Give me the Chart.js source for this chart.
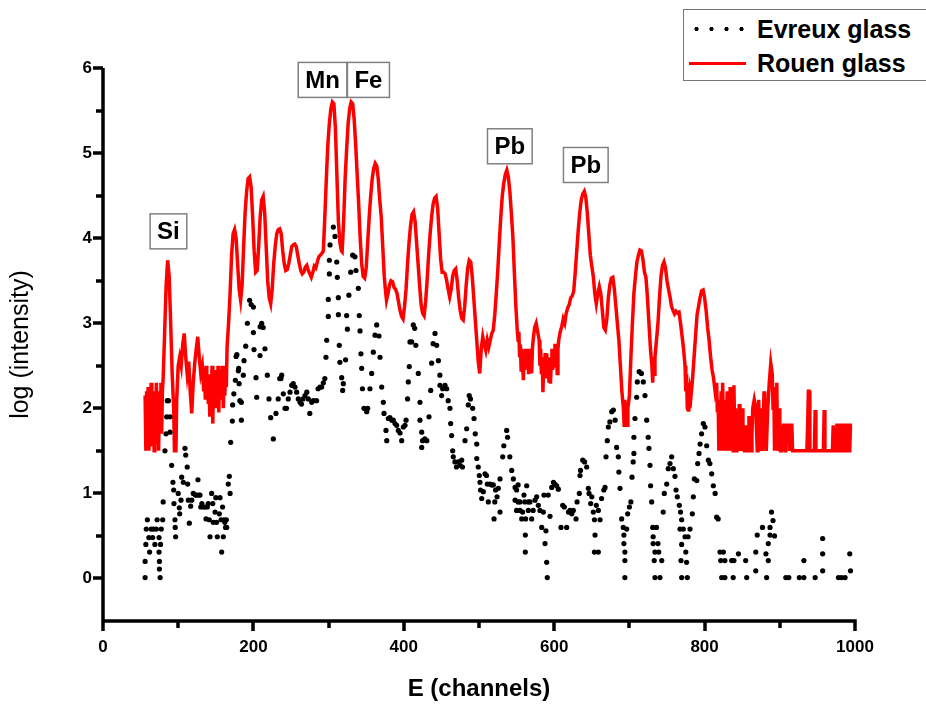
<!DOCTYPE html>
<html><head><meta charset="utf-8">
<script src="https://cdn.jsdelivr.net/npm/chart.js@4.4.1/dist/chart.umd.min.js"></script>
<style>
html,body{margin:0;padding:0;background:#fff;}
#wrap{position:relative;width:926px;height:708px;overflow:hidden;background:#fff;}
#legend{position:absolute;left:683px;top:9px;width:260px;height:70px;border:1px solid #777;background:#fff;font:bold 25px "Liberation Sans",Arial,sans-serif;color:#000;}
.row{position:absolute;left:0;height:30px;display:flex;align-items:center;white-space:nowrap;}
.sample{width:57px;margin-left:5px;margin-right:11px;}
.dots{height:6px;background:radial-gradient(circle,#000 0 1.8px,transparent 2.4px) 0 50%/15px 6px repeat-x;}
.solid{height:3px;background:#ff0000;}
</style></head>
<body><div id="wrap"><canvas id="c" width="926" height="708"></canvas>
<div id="legend"></div></div>
<script>
const seriesNames = ['Evreux glass', 'Rouen glass'];
const xRange = [0, 1000];
const yRange = [-0.5, 6];
const xTickValues = [0, 200, 400, 600, 800, 1000];
const yTickValues = [0, 1, 2, 3, 4, 5, 6];
const xMinorTicks = [100, 300, 500, 700, 900];
const yMinorTicks = [0.5, 1.5, 2.5, 3.5, 4.5, 5.5];

const peakNames = ['Si', 'Mn', 'Fe', 'Pb', 'Pb'];
const peakE = [87, 292, 353, 541, 642];
const peakLog = [4.08, 5.86, 5.86, 5.08, 4.86];

// Rouen glass: [channel, log(intensity)]
const rouenPoints = [
[56,2.15],[57,1.5],[58,2.2],[59,1.6],[60,2.25],[61,1.5],[62,2.1],[63,1.9],[64,2.3],[65,1.55],[66,2.0],[67,2.2],[68,1.5],[69,2.05],[70,1.85],[71,2.3],[72,1.6],[73,2.1],[74,1.5],[75,2.2],[76,1.95],[77,2.3],[78,1.7],[79,2.2],[80,2.35],
[82,2.9],[84,3.45],[86,3.74],[88,3.55],[90,3.0],[92,2.4],[94,2.0],[95,1.5],[97,1.5],[98,2.1],[100,2.5],[102,2.6],[104,2.5],[106,2.75],[108,2.88],[110,2.6],[112,2.4],[114,2.55],[116,2.2],[118,1.94],[120,2.3],[122,2.53],[124,2.7],[126,2.84],[128,2.6],[130,2.41],[132,2.5],[134,2.2],[135,2.45],[136,2.1],[137,2.5],[138,2.2],[139,2.4],[140,2.05],[141,2.35],[142,1.9],[143,2.4],[144,2.1],[145,2.5],[146,1.82],[147,2.3],[148,2.1],[149,2.45],[150,2.0],[151,2.4],[152,2.15],[153,2.5],[154,1.95],[155,2.35],[156,2.1],[157,2.45],[158,2.2],[159,2.5],[160,2.0],[161,2.4],[162,2.15],[163,2.5],[164,2.25],[165,2.72],[167,3.0],[169,3.35],[171,3.8],[173,4.05],[175,4.1],[177,4.0],[179,3.7],[181,3.4],[183,3.27],[185,3.45],[187,3.9],[189,4.3],[191,4.55],[193,4.7],[195,4.72],[197,4.6],[199,4.25],[201,3.85],[203,3.6],[205,3.62],[207,3.9],[209,4.25],[211,4.45],[213,4.49],[215,4.3],[217,3.9],[219,3.5],[221,3.3],[223,3.23],[225,3.4],[227,3.7],[229,3.9],[231,4.05],[233,4.1],[235,4.11],[237,4.05],[239,3.85],[241,3.7],[243,3.62],[245,3.63],[247,3.7],[249,3.8],[251,3.9],[253,3.92],[255,3.93],[257,3.9],[259,3.8],[261,3.7],[263,3.62],[265,3.58],[267,3.6],[269,3.66],[271,3.68],[273,3.62],[275,3.58],[277,3.54],[279,3.6],[281,3.67],[283,3.65],[285,3.72],[287,3.78],[289,3.8],[291,3.82],[293,3.85],[295,4.25],[297,4.7],[299,5.1],[301,5.35],[303,5.52],[305,5.6],[307,5.58],[309,5.3],[311,4.75],[313,4.2],[315,3.95],[317,3.85],[318,3.84],[320,4.2],[322,4.7],[324,5.05],[326,5.35],[328,5.52],[330,5.6],[332,5.58],[334,5.4],[336,5.1],[338,4.75],[340,4.4],[342,4.0],[344,3.7],[346,3.55],[348,3.53],[350,3.65],[352,3.95],[354,4.25],[356,4.5],[358,4.7],[360,4.82],[362,4.88],[364,4.85],[366,4.7],[368,4.45],[370,4.25],[372,3.9],[374,3.55],[376,3.35],[377,3.27],[379,3.35],[381,3.45],[383,3.5],[385,3.49],[387,3.42],[389,3.4],[391,3.35],[393,3.25],[395,3.15],[397,3.08],[399,3.05],[401,3.2],[403,3.4],[405,3.7],[407,3.95],[409,4.15],[411,4.28],[413,4.31],[415,4.2],[417,3.95],[419,3.7],[421,3.45],[423,3.22],[425,3.12],[427,3.09],[429,3.25],[431,3.5],[433,3.8],[435,4.05],[437,4.25],[439,4.4],[441,4.47],[443,4.49],[445,4.35],[447,4.05],[449,3.75],[451,3.6],[453,3.6],[455,3.58],[457,3.5],[459,3.4],[461,3.31],[463,3.4],[465,3.55],[467,3.62],[469,3.64],[471,3.5],[473,3.3],[475,3.15],[477,3.06],[479,3.04],[481,3.2],[483,3.45],[485,3.65],[487,3.74],[489,3.72],[491,3.55],[493,3.3],[495,3.05],[497,2.8],[499,2.55],[501,2.41],[503,2.7],[505,2.84],[507,2.75],[509,2.68],[511,2.8],[513,2.72],[515,2.8],[517,2.88],[519,2.92],[521,3.1],[523,3.35],[525,3.62],[527,3.95],[529,4.25],[531,4.5],[533,4.65],[535,4.75],[537,4.8],[539,4.72],[541,4.55],[543,4.3],[545,4.02],[547,3.6],[549,3.2],[551,2.9],[552,2.8],[553,2.9],[554,2.6],[555,2.75],[556,2.45],[557,2.7],[558,2.5],[559,2.33],[560,2.6],[561,2.45],[562,2.7],[563,2.5],[564,2.65],[565,2.7],[566,2.4],[567,2.6],[568,2.45],[569,2.7],[570,2.41],[571,2.7],[572,2.8],[574,2.95],[576,3.0],[578,2.9],[580,2.8],[581,2.5],[582,2.7],[583,2.4],[584,2.6],[585,2.19],[586,2.55],[587,2.4],[588,2.65],[589,2.35],[590,2.64],[591,2.45],[592,2.6],[593,2.3],[594,2.55],[595,2.29],[596,2.5],[597,2.7],[598,2.45],[599,2.65],[600,2.5],[601,2.76],[602,2.6],[603,2.7],[604,2.41],[605,2.7],[606,2.8],[608,2.9],[610,2.96],[612,3.05],[614,3.0],[616,3.12],[618,3.18],[620,3.22],[622,3.3],[624,3.32],[626,3.38],[628,3.6],[630,3.85],[632,4.1],[634,4.3],[636,4.45],[638,4.52],[640,4.55],[642,4.48],[644,4.3],[646,4.05],[648,3.8],[650,3.67],[652,3.55],[654,3.35],[656,3.23],[658,3.35],[660,3.43],[662,3.35],[664,3.15],[666,2.95],[668,2.92],[670,3.05],[672,3.3],[674,3.45],[676,3.53],[678,3.54],[680,3.4],[682,3.2],[684,3.0],[686,2.8],[688,2.5],[690,2.2],[692,2.0],[693,1.8],[694,2.1],[695,1.8],[697,1.8],[698,2.0],[700,2.15],[702,2.6],[704,3.0],[706,3.35],[708,3.55],[710,3.72],[712,3.8],[714,3.86],[716,3.85],[718,3.75],[720,3.6],[722,3.54],[724,3.3],[726,3.0],[728,2.7],[730,2.49],[731,2.3],[732,2.6],[733,2.4],[734,2.6],[736,2.8],[738,3.0],[740,3.3],[742,3.55],[744,3.68],[746,3.72],[748,3.65],[750,3.5],[752,3.4],[754,3.31],[756,3.2],[758,3.15],[760,3.11],[762,3.14],[764,3.12],[766,3.13],[768,3.0],[770,2.85],[772,2.7],[774,2.5],[775,2.2],[776,2.4],[777,2.0],[778,1.98],[779,2.3],[780,2.0],[781,2.2],[782,2.15],[784,2.35],[786,2.6],[788,2.85],[790,3.1],[792,3.2],[794,3.3],[796,3.38],[798,3.39],[800,3.3],[802,3.15],[804,2.95],[806,2.8],[808,2.6],[810,2.45],[812,2.35],[814,2.2],[816,2.3],[817,1.95],[818,2.1],[819,1.5],[820,2.09],[821,1.8],[822,2.2],[823,1.5],[824,2.3],[825,1.7],[826,2.1],[827,1.5],[828,1.9],[829,1.8],[830,2.2],[831,1.5],[832,2.1],[833,1.7],[834,2.25],[835,1.5],[836,2.0],[837,1.8],[838,1.5],[839,2.27],[840,1.7],[841,2.0],[842,1.5],[843,1.8],[844,1.95],[845,1.5],[846,2.05],[847,1.5],[848,1.8],[849,1.5],[850,2.0],[851,1.5],[852,1.8],[853,1.5],[854,1.5],[855,1.8],[856,1.5],[858,1.5],[859,1.91],[860,1.5],[861,1.8],[862,1.5],[863,1.7],[864,2.0],[866,2.1],[868,2.0],[870,1.5],[871,1.9],[872,2.1],[873,1.5],[874,1.8],[876,2.0],[877,1.5],[878,1.8],[879,2.2],[880,1.8],[882,1.5],[884,2.0],[886,2.3],[888,2.53],[890,2.4],[891,2.0],[892,2.25],[893,1.5],[894,2.2],[895,1.8],[896,2.3],[897,1.5],[898,1.8],[899,2.0],[900,1.8],[901,1.5],[902,1.5],[903,1.8],[904,1.5],[905,1.8],[906,1.8],[907,1.5],[908,1.8],[912,1.8],[913,1.5],[914,1.8],[916,1.8],[917,1.5],[921,1.5],[936,1.5],[937,1.8],[938,2.2],[939,2.2],[940,1.5],[946,1.5],[947,1.98],[948,1.5],[958,1.5],[959,1.98],[960,1.5],[970,1.5],[971,1.8],[972,1.8],[973,1.5],[975,1.5],[976,1.8],[978,1.8],[979,1.5],[981,1.5],[982,1.8],[984,1.8],[985,1.5],[987,1.5],[988,1.8],[990,1.8],[991,1.5],[993,1.5],[994,1.8],[996,1.8]
];

// Evreux glass: [channel, log(intensity)]
const evreuxPoints = [
[56,0.01],[56,0.2],[57,0.4],[57.5,0.58],[59,0.69],[61,0.48],[62,0.31],[64,0.58],[66,0.48],[67,0.58],[69,0.4],[71,0.58],[72,0.69],[74.5,0.48],[74.5,0.31],[75,0.2],[75,0.11],[76,0.01],[76.5,0.4],[77.5,0.58],[79.4,0.69],[80,0.9],[82.4,1.5],[83.8,1.7],[84.7,1.9],[85.5,2.09],[87,2.09],[89,1.9],[89,1.72],[91.3,1.33],[93,1.13],[94,1.04],[94.4,0.88],[95.7,0.69],[96,0.6],[96.6,0.49],[100,1.0],[101.5,0.83],[102,0.76],[103.7,0.92],[104.6,1.19],[106.8,1.13],[109,1.53],[110,1.45],[112,1.31],[112.6,1.11],[113.5,0.92],[114.8,0.65],[116.6,0.85],[118,0.92],[120,1.0],[122.8,0.98],[124.5,0.98],[126.3,1.16],[127.5,0.98],[129,0.98],[130,0.84],[131.5,0.88],[133.4,0.84],[135.6,0.84],[137,0.7],[138.7,0.84],[140,0.88],[141.3,0.69],[142.3,0.49],[144.5,1.0],[146,0.88],[146.7,0.66],[149,0.78],[150,0.95],[151,0.66],[152,0.49],[154.7,0.76],[155.6,0.95],[157,0.69],[157.8,0.31],[159,0.84],[160,0.49],[161,0.69],[162,0.66],[163,0.6],[164,0.69],[164.5,0.6],[166.6,1.11],[168,1.2],[169,1.0],[169.8,1.6],[172,1.85],[172.4,2.04],[174,2.17],[176,2.33],[177,2.61],[178,2.63],[180,2.44],[180.4,2.47],[181,2.29],[182,2.09],[184,2.07],[184,1.86],[186.6,2.39],[187.5,2.56],[189.8,2.73],[192,3.0],[195,3.27],[197,3.22],[200,3.19],[200,2.89],[200.8,2.69],[203.5,2.36],[204.4,2.13],[208.8,2.62],[209,2.96],[211,3.0],[213,2.95],[215.4,2.7],[218.5,2.39],[220.7,2.11],[223,1.89],[226.5,1.64],[230,1.94],[233,2.11],[235,2.35],[236.7,2.35],[237.6,2.39],[239.8,2.17],[242,2.0],[244,2.0],[246.4,2.11],[248.7,2.19],[250.9,2.27],[253,2.29],[255.3,2.25],[257.5,2.19],[259.7,2.11],[262,2.07],[264,2.05],[266,2.11],[268.6,2.15],[271,2.19],[273,2.11],[275,1.94],[277.5,2.07],[279.6,2.09],[284,2.09],[286,2.23],[288.6,2.25],[290.8,2.25],[293,2.3],[295,2.35],[296.5,2.6],[297.5,2.8],[299.6,3.08],[299.6,3.28],[301,3.58],[301,3.74],[301.9,3.92],[306.3,4.13],[308.5,4.02],[310.8,3.72],[311.6,3.54],[312.9,3.3],[313,3.1],[314.2,2.74],[315,2.54],[317.4,2.36],[318.7,2.21],[319.6,2.29],[322.6,2.57],[324,3.09],[325,2.93],[327,3.33],[329.4,3.6],[332,3.8],[335,3.78],[336.4,3.62],[339.5,3.41],[340.8,3.09],[341.8,2.91],[343,2.64],[344,2.47],[345,2.23],[347,2.0],[350.7,1.96],[352,2.0],[355,2.23],[357.3,2.41],[359.5,2.66],[361.7,2.86],[364,2.98],[367,2.85],[368.4,2.6],[370.6,2.25],[372.8,2.07],[373.7,1.94],[376.3,1.74],[377.3,1.62],[379.4,1.88],[381.5,1.89],[384,1.86],[386,1.86],[388.3,1.82],[390.5,1.8],[392.7,1.74],[395,1.71],[397.2,1.62],[399.4,1.78],[401.6,1.8],[403,1.86],[405,2.11],[406,2.31],[407.3,2.49],[408.2,2.78],[410.5,2.78],[412.6,2.98],[414.5,2.94],[416,2.74],[419.3,2.41],[421.5,2.07],[421.5,1.86],[423.8,1.72],[423.8,1.54],[425,1.62],[428,1.64],[430.6,1.62],[433.5,1.9],[435.8,2.21],[437,2.53],[439,2.76],[441.5,2.88],[443.7,2.74],[446,2.56],[448,2.39],[448.1,2.27],[450.3,2.15],[451.7,2.23],[454.8,2.27],[457,2.23],[459,2.09],[461.4,2.0],[462.3,1.82],[463.6,1.68],[465,1.5],[465.8,1.43],[468,1.37],[470,1.31],[472.5,1.37],[474.7,1.33],[477,1.39],[478,1.31],[481.4,1.62],[483.6,1.76],[485.8,2.04],[487,2.15],[488.6,2.11],[491.6,2.0],[493.4,1.88],[495,1.7],[497,1.58],[497,1.41],[499,1.31],[500.4,1.21],[501.3,1.13],[502,1.04],[503.6,0.94],[505.7,1.02],[508,1.23],[510,1.21],[511,1.11],[512.4,0.9],[514.6,1.11],[517,1.1],[519,1.1],[520,0.7],[521,0.9],[522,1.04],[524,0.96],[525.7,1.06],[528,0.78],[528,1.17],[531.5,1.43],[533,1.56],[536.8,1.74],[538,1.66],[541,1.43],[543.5,1.27],[545.7,1.17],[548,1.07],[548,0.92],[550,1.04],[550,0.8],[552,1.1],[552,0.9],[554.5,0.9],[554.5,0.8],[556.8,0.7],[558,0.78],[559.8,0.98],[561,0.9],[562,0.7],[561.6,0.51],[561.6,0.31],[563.4,1.09],[565.6,0.9],[565.6,0.8],[567.8,0.9],[570,0.7],[572,0.8],[574.5,0.92],[576.7,0.96],[578.9,0.86],[581,0.8],[583.4,0.6],[585.6,0.78],[586.4,0.98],[587.8,0.41],[589,0.56],[590,0.19],[590.8,0.01],[592,0.98],[594.4,0.73],[596.7,1.07],[599,1.13],[601,1.11],[603.3,1.09],[605.5,1.05],[609,0.6],[611.3,0.86],[613.5,0.84],[616.6,0.6],[619,0.78],[621,0.8],[623.4,0.76],[625.4,0.8],[629,0.7],[630.4,0.9],[633.4,1.0],[634.3,1.21],[635,1.27],[638,1.39],[640.4,1.37],[643.2,1.31],[645.4,1.06],[646.3,1.0],[648.5,0.88],[650,0.96],[652,0.78],[653.5,0.69],[654.3,0.51],[653.5,0.31],[658.7,0.31],[656,0.86],[658.7,0.8],[661,0.69],[663,0.94],[666,1.04],[667.6,1.07],[668.9,1.43],[670.6,1.62],[672,1.78],[674,1.84],[676.5,1.96],[678.7,1.98],[681,1.86],[683,1.54],[685.3,1.43],[686,1.25],[687.5,1.06],[689.7,0.7],[691.9,0.6],[692.7,0.51],[692.7,0.41],[694,0.31],[694,0.21],[694,0.01],[696.4,0.58],[697.7,0.76],[700,0.84],[702,0.9],[703.5,1.19],[705,1.37],[706,1.47],[706,1.66],[707.4,1.88],[709.7,2.13],[710.5,2.31],[713,2.43],[716,2.41],[718.5,2.31],[720.7,2.15],[723,1.86],[725,1.66],[726,1.53],[727.4,1.33],[728.2,1.09],[729.6,0.9],[731,0.6],[731.6,0.49],[731.6,0.41],[734,0.31],[733,0.21],[734,0.01],[736,0.6],[738,0.41],[739,0.31],[740.7,0.01],[743,0.21],[745,0.78],[746.4,1.0],[749.6,1.11],[751.7,1.29],[754,1.35],[756.2,1.43],[758.4,1.29],[760.6,1.2],[762,1.04],[763.7,0.96],[766.4,0.86],[768,0.78],[769.5,0.69],[767.3,0.58],[769.5,0.4],[768.6,0.21],[769.5,0.01],[771.7,0.58],[774,0.49],[775,0.31],[776,0.19],[777,0.01],[778,0.49],[780.6,0.58],[783.7,0.76],[785,0.96],[786.4,1.17],[789.6,1.15],[790.8,1.35],[792.6,1.47],[794,1.58],[796,1.7],[798.3,1.82],[800.5,1.78],[802.8,1.56],[805,1.39],[807,1.35],[809.4,1.23],[811.6,1.09],[814,1.0],[816,0.72],[818,0.7],[820.5,0.31],[821.4,0.21],[822.7,0.01],[825,0.31],[827,0.21],[827,0.01],[836,0.21],[838,0.01],[839,0.21],[845,0.29],[854.6,0.21],[856,0.01],[868,0.31],[870,0.51],[868,0.09],[877,0.6],[881.6,0.29],[882.5,0.01],[884.7,0.41],[884.7,0.21],[887,0.51],[887,0.6],[889,0.78],[891,0.68],[893,0.5],[908,0.01],[912,0.01],[926,0.01],[932,0.21],[932,0.01],[947,0.01],[957,0.47],[957,0.29],[957,0.09],[978,0.01],[982,0.01],[986.8,0.01],[993,0.29],[994,0.09]
];

const FONT = '"Liberation Sans", Arial, sans-serif';
Chart.defaults.font.family = FONT;
Chart.defaults.color = '#000';

// Legend (HTML)
const legendColors = ['dots', 'solid'];
const legendEl = document.getElementById('legend');
seriesNames.forEach((name, i) => {
  const row = document.createElement('div');
  row.className = 'row';
  row.style.top = (i === 0 ? 4 : 38) + 'px';
  const s = document.createElement('div');
  s.className = 'sample ' + legendColors[i];
  const t = document.createElement('span');
  t.textContent = name;
  row.appendChild(s); row.appendChild(t);
  legendEl.appendChild(row);
});

// Axis lines, major and minor tick marks
const axesPlugin = {
  id: 'axesLines',
  afterDraw(chart) {
    const {ctx, scales: {x, y}, chartArea: a} = chart;
    ctx.save();
    ctx.strokeStyle = '#000';
    ctx.lineCap = 'butt';
    ctx.lineWidth = 3.5;
    ctx.beginPath();
    ctx.moveTo(a.left, a.top); ctx.lineTo(a.left, a.bottom + 1.75);
    ctx.moveTo(a.left - 1.75, a.bottom); ctx.lineTo(a.right + 1.75, a.bottom);
    xTickValues.forEach(v => {
      const px = Math.round(x.getPixelForValue(v));
      ctx.moveTo(px, a.bottom); ctx.lineTo(px, a.bottom + 10);
    });
    xMinorTicks.forEach(v => {
      const px = Math.round(x.getPixelForValue(v));
      ctx.moveTo(px, a.bottom); ctx.lineTo(px, a.bottom + 7);
    });
    yTickValues.forEach(v => {
      const py = Math.round(y.getPixelForValue(v));
      ctx.moveTo(a.left, py); ctx.lineTo(a.left - 10, py);
    });
    yMinorTicks.forEach(v => {
      const py = Math.round(y.getPixelForValue(v));
      ctx.moveTo(a.left, py); ctx.lineTo(a.left - 7, py);
    });
    ctx.stroke();
    ctx.restore();
  }
};

const peakLabelPlugin = {
  id: 'peakLabels',
  afterDatasetsDraw(chart) {
    const {ctx, scales: {x, y}} = chart;
    ctx.save();
    ctx.font = 'bold 24px ' + FONT;
    ctx.textAlign = 'center';
    ctx.textBaseline = 'middle';
    peakNames.forEach((name, i) => {
      const cx = x.getPixelForValue(peakE[i]);
      const cy = y.getPixelForValue(peakLog[i]);
      const w = ctx.measureText(name).width + 14;
      const h = 35;
      ctx.fillStyle = '#fff';
      ctx.fillRect(cx - w / 2, cy - h / 2, w, h);
      ctx.strokeStyle = '#808080';
      ctx.lineWidth = 1.5;
      ctx.strokeRect(cx - w / 2, cy - h / 2, w, h);
      ctx.fillStyle = '#000';
      ctx.fillText(name, cx, cy + 1);
    });
    ctx.restore();
  }
};

const hiddenGrid = {display: true, drawOnChartArea: false, drawTicks: true, tickLength: 10, tickColor: 'rgba(0,0,0,0)'};

new Chart(document.getElementById('c'), {
  type: 'scatter',
  data: {
    datasets: [
      {
        type: 'scatter',
        label: seriesNames[0],
        data: evreuxPoints.map(p => ({x: p[0], y: p[1]})),
        pointRadius: 2.6,
        pointBackgroundColor: '#000',
        pointBorderWidth: 0,
        order: 0
      },
      {
        type: 'line',
        label: seriesNames[1],
        data: rouenPoints.map(p => ({x: p[0], y: p[1]})),
        showLine: true,
        borderColor: '#ff0000',
        borderWidth: 3.5,
        pointRadius: 0,
        tension: 0,
        fill: false,
        order: 1
      }
    ]
  },
  options: {
    responsive: false,
    animation: false,
    devicePixelRatio: 1,
    layout: {padding: {left: 0, right: 71, top: 68, bottom: 0}},
    plugins: {legend: {display: false}, tooltip: {enabled: false}},
    scales: {
      x: {
        type: 'linear',
        min: xRange[0], max: xRange[1],
        afterBuildTicks: s => { s.ticks = xTickValues.map(v => ({value: v})); },
        ticks: {font: {size: 17, weight: 'bold'}, color: '#000', padding: 6, maxRotation: 0, autoSkip: false, callback: v => String(v)},
        grid: hiddenGrid,
        border: {display: false},
        title: {display: true, text: 'E (channels)', font: {size: 24, weight: 'bold'}, color: '#000', padding: {top: 0, bottom: 4}},
        afterFit: s => { s.height = 87; }
      },
      y: {
        type: 'linear',
        min: yRange[0], max: yRange[1],
        afterBuildTicks: s => { s.ticks = yTickValues.map(v => ({value: v})); },
        ticks: {font: {size: 17, weight: 'bold'}, color: '#000', padding: 1, autoSkip: false, callback: v => String(v)},
        grid: hiddenGrid,
        border: {display: false},
        title: {display: true, text: 'log (intensity)', font: {size: 25, weight: 'normal'}, color: '#000', padding: {top: 6, bottom: 0}},
        afterFit: s => { s.width = 103; }
      }
    }
  },
  plugins: [axesPlugin, peakLabelPlugin]
});
</script>
</body></html>
